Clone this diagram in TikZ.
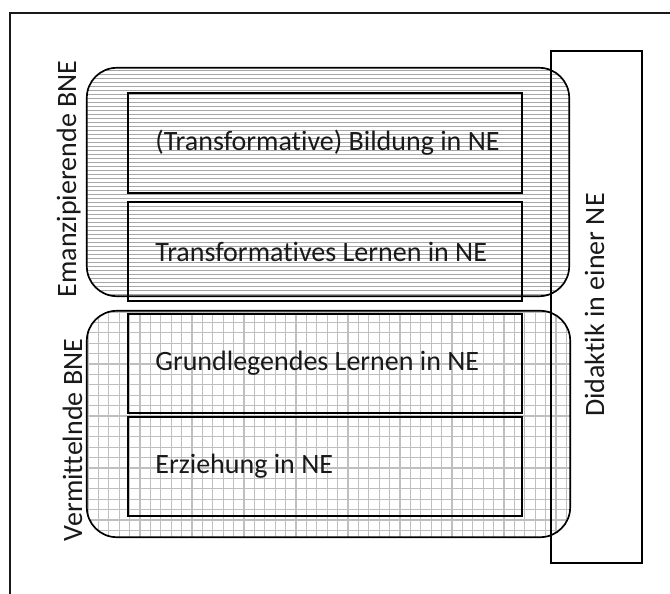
\documentclass[tikz,border=0pt]{standalone}
\usepackage{fontspec}
\setmainfont{Carlito}[Ligatures={NoCommon}]
\begin{document}
\begin{tikzpicture}[x=1pt,y=-1pt,
  txt/.style={font=\fontsize{28}{33}\selectfont, inner sep=0pt, text=black!90},
  box/.style={draw=black, line width=1.7pt, minimum width=394pt, inner sep=0pt},
  group/.style={draw=black, line width=1.7pt, rounded corners=30pt, inner sep=0pt},
  hatch/.style={draw=black!35, line width=0.8pt},
  gridl/.style={draw=black!25, line width=1.1pt}
]
\useasboundingbox (0,0) rectangle (670,594);
\fill[white] (0,0) rectangle (670,594);
% outer frame (only left and top edges visible)
\draw[line width=1.5pt, black!90] (10,594) -- (10,13) -- (670,13);

% group shapes (defined first, drawn later)
\path (328,182) node[minimum width=482pt, minimum height=228pt, inner sep=0pt] (up) {};
\path (328.5,424) node[minimum width=483pt, minimum height=226pt, inner sep=0pt] (lo) {};

% patterns
\begin{scope}
  \clip[rounded corners=30pt] (up.south west) rectangle (up.north east);
  \foreach \y in {70,74,...,298} \draw[hatch] (80,\y) -- (580,\y);
\end{scope}
\begin{scope}
  \clip[rounded corners=30pt] (lo.south west) rectangle (lo.north east);
  \foreach \i in {0,...,47} \draw[gridl] (88+10.4*\i,300) -- (88+10.4*\i,545);
  \foreach \i in {0,...,22} \draw[gridl] (80,312+10.4*\i) -- (580,312+10.4*\i);
\end{scope}

% group outlines
\draw[group] (up.south west) rectangle (up.north east);
\draw[group] (lo.south west) rectangle (lo.north east);

% inner boxes
\node[box, minimum height=100pt] (b1) at (325,143) {};
\node[box, minimum height=99pt] (b2) at (325,251.5) {};
\node[box, minimum height=99pt] (b3) at (325,363.5) {};
\node[box, minimum height=99pt] (b4) at (325,466.5) {};

\node[txt, anchor=west] (t1) at ([xshift=28pt]b1.west) {(Transformative) Bildung in NE};
\node[txt, anchor=west] (t2) at ([xshift=28pt]b2.west) {Transformatives Lernen in NE};
\node[txt, anchor=west] (t3) at ([xshift=28pt]b3.west) {Grundlegendes Lernen in NE};
\node[txt, anchor=west] (t4) at ([xshift=28pt]b4.west) {Erziehung in NE};

% Didaktik box
\node[draw=black, line width=1.7pt, minimum width=91pt, minimum height=512pt, inner sep=0pt] (did) at (596.5,307) {};
\node[txt, rotate=90, anchor=base] (tdid) at (604,305) {Didaktik in einer NE};

% side labels
\node[txt, rotate=90, anchor=base] (tem) at (76,179) {Emanzipierende BNE};
\node[txt, rotate=90, anchor=base] (tve) at (82,440) {Vermittelnde BNE};
\end{tikzpicture}
\end{document}
